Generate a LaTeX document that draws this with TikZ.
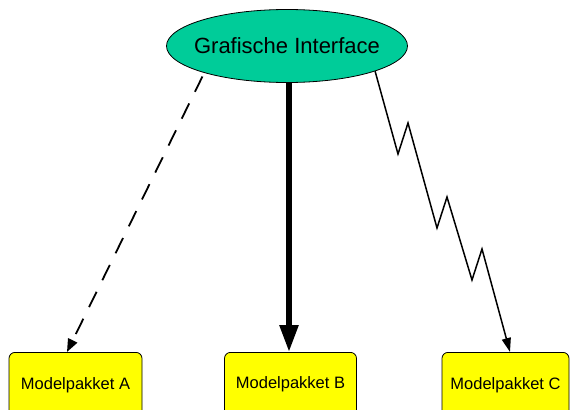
\documentclass[tikz,border=0pt]{standalone}
\usepackage{fontspec}
\setmainfont{Liberation Sans}
\usetikzlibrary{shapes.geometric,arrows.meta}
\definecolor{gifill}{RGB}{0,204,153}
\definecolor{boxfill}{RGB}{255,255,0}
\tikzset{
  gui/.style={ellipse,draw=black,line width=0.8pt,fill=gifill,minimum width=241pt,minimum height=73pt,inner xsep=-9pt,inner ysep=0pt,font=\fontsize{22}{26}\selectfont},
  pakket/.style={rectangle,rounded corners=6pt,draw=black,line width=0.8pt,fill=boxfill,anchor=north,minimum height=68pt,inner sep=0pt,font=\fontsize{16.5}{20}\selectfont},
  dashconn/.style={line width=1.8pt,dash pattern=on 17pt off 13pt,-{Triangle[length=13pt,width=10pt]}},
  thickconn/.style={line width=5.5pt,-{Triangle[length=27pt,width=18pt]}},
  zigconn/.style={line width=1.5pt,-{Triangle[length=14pt,width=9pt]}}
}
\begin{document}
\begin{tikzpicture}[x=1pt,y=-1pt]
\useasboundingbox (0,0) rectangle (571,410);
\node[gui] (g) at (287,46) {Grafische Interface};
\node[pakket,minimum width=133pt] (a) at (75.5,352) {\raisebox{5pt}{Modelpakket A}};
\node[pakket,minimum width=132pt] (b) at (290.5,352) {\raisebox{7pt}{Modelpakket B}};
\node[pakket,minimum width=127pt] (c) at (505.5,352) {\raisebox{5pt}{Modelpakket C}};
\coordinate (atip) at (67,352);
\coordinate (btip) at (289,352);
\coordinate (ctip) at (510,352);
\coordinate (bstart) at (289,82);
\draw[dashconn,shorten <=4pt] (g.198) -- (atip);
\draw[thickconn] (bstart) -- (btip);
\draw[zigconn,line join=miter] (g.-16) -- (398,154) -- (408,123) -- (437,228) -- (447,197) -- (472,280) -- (482,249) -- (ctip);
\end{tikzpicture}
\end{document}
